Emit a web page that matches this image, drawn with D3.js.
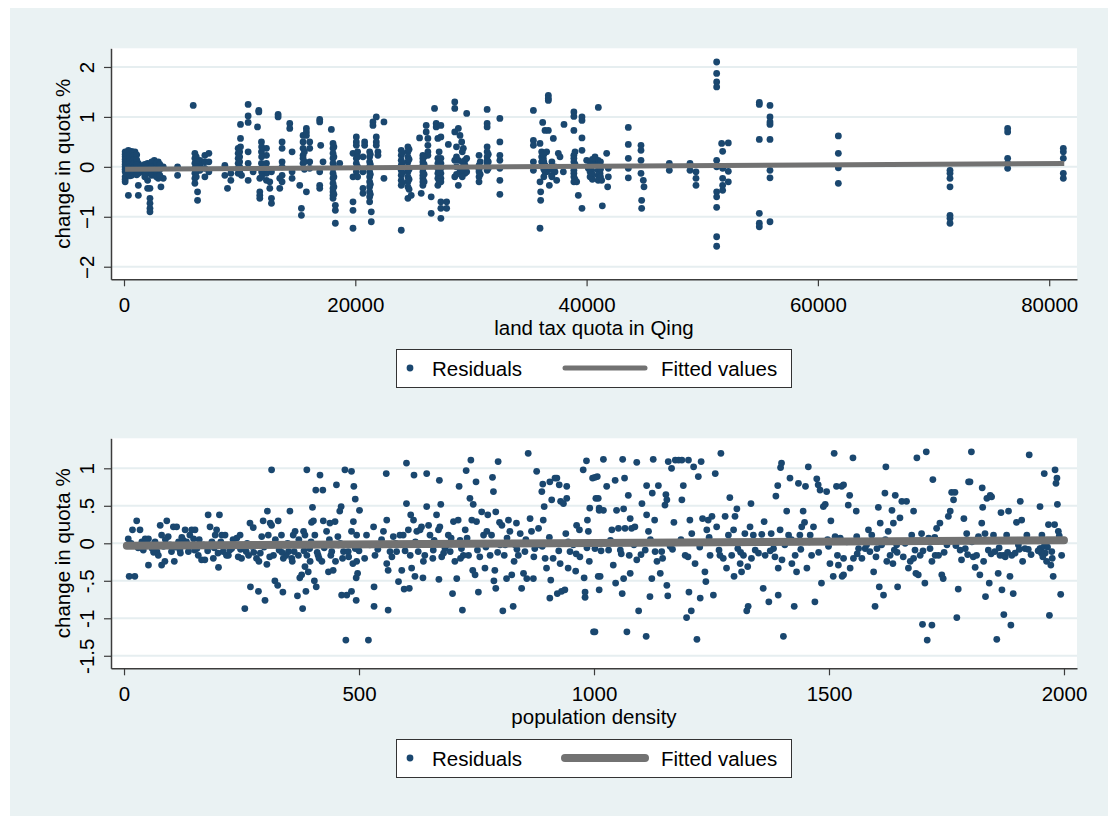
<!DOCTYPE html>
<html><head><meta charset="utf-8">
<script src="https://cdn.jsdelivr.net/npm/d3@7"></script>
<style>
body{margin:0;background:#fff}
svg{display:block}
text{font-family:"Liberation Sans",Arial,sans-serif;fill:#000}
</style>
</head><body>
<svg id="chart" width="1108" height="816"></svg>
<script>
// ---------------- DATA ----------------
// Panel 1: land tax quota (x) -> residual change in quota (y); points share x values in stripes
const quotaStripeX = [100,380,660,950,1240,1380,2043,2245,2619,2964,3195,3396,4634,5986,6130,6360,6562,6993,7339,8720,8950,9238,9872,10073,10160,10735,11166,11541,11656,11742,11886,12318,12606,12750,13325,13469,13670,14332,14534,15196,15340,15484,15771,16059,16923,17009,17210,17930,18074,18275,18650,19800,20090,20664,20808,21240,21383,21527,21815,21959,22477,23974,24549,24837,25557,25700,25844,26132,26276,26563,26851,26995,27139,27400,27900,28046,28600,28910,29054,29198,29342,29487,29631,30700,31400,32500,35400,35971,36029,36115,36202,36259,36403,36547,36692,36778,36980,37124,37268,37412,37556,37700,37988,38046,38900,39141,39285,39600,40006,40150,40300,40438,40726,40870,41000,41015,41159,41303,41360,41735,41821,41879,43608,44703,44761,44905,44963,47153,48940,49459,51246,51678,51764,52254,54935,55857,61768,71423,76408,81222,
  240,520,800,1100,1800,2400,2800,3100,6250,10000,11900,15600,18150,20200,21300,24050,24650,25950,27250,28750,29250,30800,31500,36300,37000,39000,40500,41200];
const quotaStripeResid = [
[0.3,0.25,0.2,0.15,0.1,0.05,0,-0.05,-0.1,-0.2,-0.25,-0.3],
[0.33,0.27,0.2,0.13,0.07,0,-0.07,-0.57],
[0.31,0.25,0.17,0.1,0.03,-0.1,-0.17],
[0.3,0.17,0.07,-0.03,-0.13],
[0.07,-0.03,-0.13,-0.37,-0.57],
[0.03,-0.1],
[0.07,-0.03,-0.13,-0.27,-0.43],
[-0.43,-0.63,-0.73,-0.83,-0.9],
[0.13,0.03,-0.1],
[0.1,0,-0.1,-0.23],
[-0.4],
[0,-0.23],
[0,-0.17],
[1.23],
[0.27,0.17,0.07,-0.03,-0.13,-0.23,-0.33],
[-0.5,-0.67],
[0.13,0.03,-0.07],
[0.23,0.1,-0.03,-0.2],
[0.27,0.1,-0.1],
[0.03,-0.17],
[-0.43],
[-0.13,-0.27],
[0.37,0.27,0.17,0.07,-0.03,-0.13],
[0.85,0.57,0.4],
[-0.17],
[1.25,1.02,0.89,0.3,0.07,-0.27],
[-0.1],
[0.8],
[1.13,1.1],
[-0.23,-0.5,-0.57,-0.63],
[0.5,0.3,0.07,-0.03],
[0.37,0.23,0.07,-0.13,-0.27],
[-0.3,-0.43],
[-0.1,-0.63,-0.73],
[1.05,1.0],
[-0.23,-0.43],
[0.5,0.37,0.1,0,-0.17,-0.3],
[0.87,0.77],
[0.3,-0.1,-0.23],
[-0.37],
[-0.83,-0.97],
[0.63,0.5,0.37,0.23,0.17,0.07],
[0.77,0.7,0.63,-0.5],
[0.5,0.37,0.1,-0.03],
[0.95,0.9,-0.1,-0.37,-0.43],
[0.43],
[0.1],
[0.75],
[0.47,0.37,0.27,0.17,0.07,-0.03,-0.13,-0.23,-0.33,-0.43,-0.5,-0.57,-0.63],
[-0.77,-0.87,-1.13],
[0.07],
[0.27,-0.2,-0.7,-0.87,-1.23],
[0.6,0.5,0.43,0.17,0.07,-0.1],
[0.2,-0.1,-0.43,-0.53],
[0.5,0.43],
[0.3,0.2,0.1,0,-0.1,-0.2,-0.3,-0.4,-0.5,-0.6,-0.7],
[-0.9,-1.1],
[0.9,0.83],
[1.0,0.6,0.5,0.43],
[0.3,0.23],
[0.9,-0.23],
[0.33,0.23,0.13,0.03,-0.07,-0.17,-0.27,-0.37,-1.27],
[0.4,0.3,0.2,0.1,0,-0.1,-0.2,-0.3,-0.4,-0.63],
[-0.57],
[0.58],
[-0.53],
[0.23,0.17,0.1,0.03,-0.03,-0.1,-0.17,-0.23,-0.3,-0.37],
[0.83,0.7],
[0.57,0.43,0.3,0.23],
[-0.6,-0.93],
[1.17],
[0.87,0.8],
[0.57,0.17,0.07,-0.03,-0.13,-0.23,-0.37],
[0.83,0.6,0.17,0.07,-0.03,-0.13,-0.23,-0.3,-0.7,-0.83,-1.03],
[-0.7,-0.83],
[0.45],
[1.3,1.17,0.7,0.13,-0.2],
[0.77,0.13,-0.37],
[0.63,-0.1],
[0.5],
[0.37],
[0.13,0.03,-0.07,-0.13],
[1.07,0.17,-0.1],
[0.23,0.03,-0.05,-0.1,-0.2,-0.3],
[1.15,0.87,0.8,0.4,0.3,0.2,0.13,0.07,0,-0.07],
[0.97,0.5,0.23,0.13,-0.03,-0.27,-0.55],
[1.13,0.53,0.43,0.1,-0.07],
[0.47,-0.3,-1.23],
[-0.5,-0.67],
[0.3,0.2,0.1],
[0.89],
[0.17,0.07],
[0.73,0.03,-0.1],
[0.3,-0.1],
[1.43,1.37,1.33,0.73],
[-0.37],
[-0.17],
[0.57],
[0,-0.1],
[-0.27],
[0.27],
[0.2],
[-0.1],
[0.85],
[1.1,1.01,0.73,0.23,0.17,0.1,0,-0.07,-0.13,-0.2,-0.3],
[-0.3],
[-0.57],
[1.0,0.93,0.58,0.33,-0.83],
[0.13],
[-0.03],
[0.1,0,-0.1,-0.2],
[-0.07],
[0.2],
[0.07],
[0.13,0.03,-0.07,-0.17,-0.27],
[1.19],
[-0.13],
[-0.27],
[-0.78],
[0.27],
[-0.4],
[-0.2,-0.03],
[0.79,0.45,0.17,-0.03,-0.22],
[0.43,0.33,0.13,-0.13],
[-0.67,-0.83],
[-0.27],
[-0.4],
[0.07,-0.07],
[0.07,-0.07],
[-0.1,-0.23,-0.37],
[2.1,1.87,1.7,1.6,0.13,0,-0.5,-0.6,-0.81,-1.4,-1.59],
[0.47],
[0.31,-0.03,-0.23,-0.37,-0.47],
[0.48,-0.09,-0.3],
[1.29,1.25,0.55,-0.93,-1.13,-1.2],
[1.23,1.0,0.9,0.85,0.55,-0.07,-0.22,-1.1],
[0.62,0.27,-0.02,-0.33],
[-0.07,-0.13,-0.23,-0.4,-0.97,-1.03,-1.13],
[0.77,0.7,0.17,0.07,-0.03],
[0.37,0.3,0.17,-0.13,-0.23],
[0.28,0.22,0.16,0.1,0.04,-0.02,-0.08,-0.14],
[0.3,0.24,0.18,0.12,0.06,0,-0.06,-0.12,-0.18],
[0.28,0.22,0.14,0.06,-0.02,-0.08,-0.14],
[0.24,0.14,0.04,-0.06,-0.16],
[0.05,-0.05,-0.15,-0.2],
[0.1,0,-0.1,-0.17],
[0.08,-0.05,-0.15,-0.2],
[0.05,-0.05,-0.17],
[0.2,0.1,0,-0.1,-0.2],
[0.3,0.2,0.1,0,-0.1],
[0.4,0.2,-0.1,-0.2],
[0.3,0.1,-0.05],
[0.4,0.2,0,-0.2,-0.4,-0.55],
[0.3,0.2,0,-0.2],
[0.25,0.05,-0.15,-0.35,-0.55],
[0.28,0.08,-0.12,-0.32],
[0.35,0.15,-0.05,-0.25,-0.45],
[0.2,0.05,-0.15,-0.3],
[0.3,0.1,-0.1,-0.3],
[0.4,0.2,0,-0.15],
[0.3,0.1,-0.05,-0.2],
[0.1,-0.15],
[0.25,0.1,-0.03],
[0.25,0.1,-0.05,-0.2],
[0.1,-0.05,-0.2],
[0.3,0.05,-0.25],
[0.15,0.05,-0.15,-0.25],
[0.1,-0.05,-0.2]
];
const quotaFitX = [100, 81300];
const quotaFitY = [-0.047, 0.067];
const quotaXTicks = [0, 20000, 40000, 60000, 80000];
const quotaYTicks = [-2, -1, 0, 1, 2];

// Panel 2: population density (x) -> residual change in quota (y)
const densityPoints = [
[9,0.06],[11,-0.44],[23,-0.44],[18,0.18],[27,0.3],[34,0.18],[38,0.02],[41,-0.09],[45,0.06],[52,0.06],[52,-0.29],[59,-0.02],[66,0.02],[70,-0.11],[73,-0.16],[77,0.24],[80,0.11],[80,-0.29],[87,-0.24],[91,0.3],[94,0.09],[98,-0.02],[101,-0.11],[105,0.22],[107,-0.24],[112,0.22],[116,0.02],[119,-0.09],[130,0.18],[133,0.02],[137,-0.11],[140,0.11],[144,0.18],[148,0.06],[151,0.18],[155,-0.07],[158,-0.16],[165,-0.22],[169,-0.02],[172,-0.22],[179,0.38],[183,0.22],[187,0.02],[190,-0.2],[194,0.11],[197,0.18],[201,-0.32],[203,0.38],[208,0.11],[211,-0.11],[215,0.11],[222,-0.16],[229,-0.07],[236,-0.02],[243,-0.18],[247,0.11],[250,-0.2],[254,-0.04],[257,-0.87],[265,-0.16],[268,0.27],[269,-0.58],[275,0.21],[279,-0.02],[282,-0.2],[286,-0.64],[287,-0.24],[293,0.09],[296,0.3],[300,-0.76],[304,-0.28],[305,0.43],[307,0.11],[311,0.27],[314,0.24],[314,0.98],[318,-0.16],[321,-0.5],[325,-0.02],[327,-0.56],[328,0.3],[335,0.11],[338,-0.65],[339,-0.2],[343,-0.02],[350,-0.11],[353,0.43],[357,-0.2],[360,0.11],[364,0.16],[367,-0.02],[369,-0.7],[371,-0.16],[374,-0.46],[378,-0.42],[380,-0.87],[382,0.16],[385,0.11],[385,-0.31],[387,-0.64],[389,-0.16],[389,0.98],[392,-0.38],[396,-0.24],[399,0.28],[401,0.48],[403,0.3],[405,-0.5],[406,0.11],[408,0.71],[409,-0.58],[413,-0.16],[417,0.91],[421,-0.24],[423,0.71],[424,0.3],[428,-0.02],[431,0.16],[435,-0.38],[438,0.27],[442,-0.11],[445,-0.36],[449,0.29],[452,0.78],[456,-0.02],[459,0.43],[462,0.49],[463,-0.69],[467,-0.11],[470,0.98],[472,-1.29],[474,-0.69],[477,-0.11],
[60,-0.07],[84,-0.04],[120,-0.13],[126,0.04],[150,-0.09],[175,-0.04],[200,-0.13],[225,-0.09],[240,0.07],[260,-0.11],[272,-0.04],[290,-0.13],[330,-0.09],[345,-0.16],[362,-0.11],[395,-0.07],[415,-0.2],[440,-0.16],[455,0.09],[465,-0.2],
[484,0.96],[489,0.76],[492,0.59],[501,0.44],[488,0.29],[484,0.16],[495,0.11],[492,-0.07],[487,-0.27],[495,-0.24],[497,-0.4],[494,-0.46],[484,-0.64],[494,-0.76],[520,-1.29],[516,0.11],[523,-0.02],[531,0.22],[534,-0.16],[532,-0.58],[532,-0.84],[552,0.16],[558,0.93],[559,0.31],[559,-0.27],[562,-0.36],[562,-0.89],[566,-0.11],[573,0.09],[580,-0.11],[584,-0.51],[587,0.11],[591,-0.36],[594,0.11],[596,-0.61],[601,1.07],[601,0.53],[605,0.18],[607,-0.6],[609,-0.16],[610,0.38],[612,-0.33],[616,0.31],[617,0.91],[619,-0.44],[623,0.16],[626,-0.11],[630,0.18],[633,0.22],[636,-0.46],[637,-0.24],[644,0.93],[644,0.49],[648,0.24],[651,0.11],[657,-0.2],[658,-0.09],[665,0.38],[669,0.18],[670,-0.48],[671,0.84],[672,0.22],[674,0.52],[676,-0.18],[683,-0.07],[687,-0.02],[690,0.11],[694,-0.11],[699,-0.67],[701,0.29],[704,-0.24],[708,-0.47],[711,0.31],[713,0.76],[715,0.04],[718,-0.07],[720,-0.89],[722,-0.16],[726,0.18],[728,0.97],[733,-0.16],[736,0.6],[738,1.11],[740,0.31],[742,-0.36],[743,0.52],[747,-0.42],[749,0.82],[750,0.29],[754,-0.65],[757,-0.18],[761,0.42],[765,0.11],[768,-0.33],[772,0.16],[774,0.38],[779,-0.16],[782,0.11],[784,0.88],[786,0.69],[787,-0.5],[789,-0.36],[791,-0.6],[791,0.42],[796,1.09],[799,0.28],[800,-0.02],[804,0.24],[806,-0.9],[809,-0.16],[811,-0.02],[814,-0.47],[818,0.31],[821,0.16],[825,-0.42],[828,-0.84],[830,-0.24],[832,-0.02],[835,0.27],[839,-0.16],[843,0.13],[846,-0.6],[850,-0.4],[853,-0.11],[857,-0.47],[860,1.2],[864,0.33],[867,0.16],[871,-0.47],[874,-0.07],[878,0.96],[882,0.2],[885,-0.02],[889,0.69],[891,0.79],[892,0.31],[894,0.49],[896,-0.2],[899,-0.33],[906,0.82],[906,-0.73],[908,-0.49],[910,0.58],[913,-0.2],[917,0.87],[921,0.87],[922,-0.67],[926,0.78],[928,-0.27],[929,0.56],[931,-0.64],[935,0.53],[938,-0.62],[940,0.13],[942,0.76],[942,0.6],[945,-0.33],[949,-0.11],[956,-0.02],[961,-0.37],[963,0.24],[969,0.18],[970,-0.18],[977,0.98],[979,-0.46],[981,-0.72],[981,-0.65],[984,1.1],[986,0.31],[988,0.16],[990,-0.24],[991,0.47],[997,0.87],[999,-1.18],[1002,-0.07],[1004,0.6],[1007,0.89],[1009,-0.44],[1011,-0.62],[1011,0.47],
[1002,0.88],[1009,0.6],[1011,0.44],[1020,1.12],[1020,0.44],[1013,-0.44],[1002,-1.18],[1027,0.76],[1031,-0.09],[1038,0.18],[1041,-0.29],[1045,0.84],[1046,-0.53],[1048,0.44],[1052,0.2],[1056,-0.09],[1060,-0.67],[1061,1.12],[1063,-0.47],[1065,0.87],[1063,0.46],[1066,0.2],[1070,-1.18],[1073,0.64],[1075,-0.16],[1077,0.33],[1077,-0.4],[1080,0.2],[1087,0.22],[1091,1.08],[1091,-0.22],[1095,-0.9],[1102,0.53],[1109,-0.09],[1111,-1.24],[1112,0.77],[1112,0.38],[1116,0.16],[1119,-0.71],[1123,-0.47],[1124,0.67],[1126,1.12],[1129,0.31],[1130,-0.11],[1134,-0.24],[1137,0.77],[1141,-0.4],[1144,-0.11],[1151,0.51],[1153,0.65],[1155,0.58],[1155,-0.56],[1157,-0.7],[1158,1.09],[1162,-0.04],[1165,1.0],[1170,0.28],[1173,1.11],[1180,1.11],[1187,1.11],[1190,0.77],[1187,0.58],[1194,-0.16],[1197,-0.99],[1201,1.11],[1202,-0.65],[1204,0.31],[1207,-0.9],[1208,0.13],[1212,1.02],[1215,-0.27],[1219,-1.28],[1222,0.89],[1226,-0.73],[1228,1.09],[1231,0.33],[1236,-0.38],[1238,-0.51],[1240,0.18],[1243,0.31],[1247,-0.16],[1251,0.36],[1254,-0.69],[1258,0.93],[1261,0.22],[1266,-0.09],[1270,1.2],[1275,-0.2],[1279,0.36],[1282,-0.33],[1286,0.11],[1289,0.61],[1293,-0.16],[1297,0.18],[1298,-0.44],[1300,0.36],[1304,0.46],[1306,-0.07],[1311,-0.27],[1314,-0.38],[1318,-0.16],[1321,0.13],[1325,-0.9],[1327,-0.31],[1328,-0.84],[1332,0.22],[1334,0.53],[1339,0.11],[1343,-0.09],[1350,-0.13],[1357,0.12],[1360,-0.6],[1362,0.29],[1364,-0.16],[1372,-0.78],[1377,0.13],[1382,-0.07],[1385,-0.18],[1387,0.63],[1391,0.77],[1392,-0.33],[1392,-0.69],[1396,0.18],[1397,1.01],[1399,1.07],[1403,-1.24],[1406,-0.02],[1410,0.43],[1414,0.11],[1417,0.87],[1421,-0.27],[1426,-0.84],[1428,-0.16],[1431,-0.38],[1435,0.8],[1438,0.11],[1442,0.22],[1445,0.43],[1448,0.28],[1450,0.76],[1453,-0.33],[1456,1.02],[1460,0.11],[1463,-0.16],[1467,0.22],[1470,-0.78],[1474,0.86],[1477,0.78],[1481,0.71],[1484,-0.53],[1488,0.49],[1492,0.52],[1495,0.69],[1499,-0.04],[1502,-0.27],[1504,0.3],[1509,-0.44],[1511,1.2],[1513,0.09],[1516,0.76],[1520,-0.29],[1527,0.76],[1528,-0.44],
[1524,0.07],[1531,0.78],[1531,-0.2],[1531,-0.42],[1544,0.64],[1545,-0.33],[1541,0.51],[1551,1.14],[1552,-0.2],[1558,0.43],[1559,0.09],[1563,-0.07],[1570,-0.2],[1577,-0.07],[1584,0.18],[1587,-0.11],[1591,0.11],[1595,-0.38],[1598,-0.84],[1602,-0.07],[1605,0.48],[1607,-0.58],[1609,0.27],[1612,-0.02],[1616,-0.69],[1619,0.67],[1621,1.02],[1623,-0.24],[1626,0.16],[1630,-0.16],[1634,0.44],[1636,-0.27],[1637,0.27],[1639,-0.09],[1641,0.64],[1644,-0.02],[1646,-0.58],[1651,0.34],[1655,0.56],[1658,-0.18],[1665,0.56],[1669,-0.33],[1673,-0.24],[1676,0.11],[1680,0.43],[1683,-0.09],[1685,-0.4],[1687,1.14],[1690,-0.42],[1694,-0.16],[1697,0.13],[1699,-1.08],[1704,-0.53],[1707,1.22],[1709,-1.29],[1712,0.07],[1715,-0.07],[1719,-1.09],[1719,-0.24],[1721,0.85],[1726,-0.16],[1729,0.2],[1733,-0.16],[1736,0.27],[1740,-0.42],[1743,-0.47],[1751,-0.02],[1754,0.36],[1758,0.43],[1761,0.68],[1765,0.58],[1768,0.68],[1772,-0.99],[1775,-0.61],[1779,-0.09],[1782,-0.22],[1787,0.33],[1790,-0.07],[1793,0.13],[1797,0.82],[1800,0.82],[1803,1.22],[1804,0.02],[1807,-0.18],[1811,-0.32],[1814,-0.16],[1818,0.09],[1821,-0.42],[1825,0.27],[1826,0.74],[1827,0.48],[1829,-0.24],[1832,0.13],[1833,-0.71],[1836,0.6],[1839,-0.09],[1841,-0.53],[1843,0.64],[1846,0.62],[1850,0.11],[1853,-0.11],[1857,-1.28],[1860,-0.4],[1864,-0.16],[1866,0.41],[1868,-0.62],[1871,-0.16],[1872,-0.95],[1875,-0.18],[1878,0.11],[1882,0.43],[1885,-0.44],[1887,-1.09],[1889,-0.16],[1892,-0.67],[1896,-0.13],[1899,0.28],[1903,-0.02],[1907,0.56],[1910,0.31],[1912,-0.24],[1917,-0.07],[1921,0.11],[1924,-0.08],[1926,1.18],[1949,0.49],[1951,-0.07],[1953,0.11],[1958,0.93],[1960,-0.13],[1963,-0.24],[1967,0.25],[1969,-0.96],[1972,-0.29],[1974,-0.11],[1977,-0.44],[1980,0.25],[1981,0.98],[1983,0.8],[1985,0.87],[1986,0.52],[1988,0.16],[1993,-0.68],[1995,-0.16],[1949,-0.07],[1952,-0.13],[1955,-0.18],[1958,-0.04],
[15,0.0],[30,-0.06],[48,0.03],[63,-0.12],[88,0.05],[110,-0.05],[123,0.08],[142,-0.03],[160,0.05],[178,-0.1],[192,-0.06],[206,0.02],[218,-0.16],[232,0.05],[248,-0.08],[262,0.0],[276,-0.12],[298,-0.05],[310,-0.18],[322,0.05],[336,-0.12],[348,0.0],[358,-0.24],[372,0.05],[383,-0.1],[398,0.02],[411,-0.12],[426,-0.06],[437,0.05],[450,-0.24],[460,0.0],[478,-0.18],[500,-0.1],[512,-0.2],[540,-0.08],[548,0.05],[570,-0.18],[578,0.0],[598,-0.1],[620,0.02],[640,-0.16],[660,0.04],[680,-0.13],[696,0.07],[716,-0.2],[730,0.07],[752,-0.09],[770,-0.05],[795,-0.12],[815,0.07],[836,-0.08],[855,0.05],[872,-0.18],[890,-0.04],[905,0.08],[925,-0.1],[945,0.02],[962,-0.14],[985,-0.06],[1015,-0.1],[1035,0.04],[1058,-0.14],[1085,-0.02],[1100,-0.15],[1120,0.05],[1146,-0.2],[1167,-0.08],[1185,0.05],[1200,-0.18],[1225,-0.05],[1245,0.08],[1268,-0.16],[1290,0.02],[1312,-0.12],[1335,-0.2],[1355,0.02],[1375,-0.1],[1400,-0.22],[1420,0.05],[1440,-0.08],[1458,0.02],[1478,-0.12],[1497,0.05],[1518,-0.16],[1538,0.02],[1560,-0.14],[1580,-0.02],[1600,-0.18],[1620,0.05],[1645,-0.12],[1662,0.0],[1680,-0.2],[1700,-0.1],[1725,0.08],[1745,-0.12],[1770,-0.03],[1795,-0.15],[1815,0.05],[1845,-0.14],[1862,-0.06],[1880,-0.12],[1905,-0.08],[1930,-0.15],[1945,-0.1],[1965,-0.05],[1975,-0.2],[1990,0.1]
];
const densityFitX = [6, 2000];
const densityFitY = [-0.033, 0.04];
const densityXTicks = [0, 500, 1000, 1500, 2000];
const densityYTicks = [-1.5, -1, -0.5, 0, 0.5, 1];

const legendLabels = ["Residuals", "Fitted values"];
const xTitles = ["land tax quota in Qing", "population density"];
const yTitle = "change in quota %";

// ---------------- STYLE ----------------
const BG = "#eaf2f3", GRID = "#e6eef0", AXIS = "#3c3c3c", DOT = "#1a476f", FIT = "#727272";
const FONT = 20.5;
const plotLeft = 111, plotRight = 1077;

const svg = d3.select("#chart");
svg.append("rect").attr("x", 10).attr("y", 8).attr("width", 1098).attr("height", 808).attr("fill", BG);

function panel(cfg) {
  const x = d3.scaleLinear().domain(cfg.xDomain).range([plotLeft, plotRight]);
  const y = d3.scaleLinear().domain(cfg.yDomain).range([cfg.bottom, cfg.top]);
  const g = svg.append("g");

  g.append("rect").attr("x", plotLeft).attr("y", cfg.top)
    .attr("width", plotRight - plotLeft).attr("height", cfg.bottom - cfg.top).attr("fill", "#fff");

  // gridlines
  g.append("g").selectAll("line").data(cfg.yTicks).join("line")
    .attr("x1", plotLeft).attr("x2", plotRight)
    .attr("y1", d => y(d)).attr("y2", d => y(d))
    .attr("stroke", GRID).attr("stroke-width", 2);

  // points
  g.append("g").selectAll("circle").data(cfg.points).join("circle")
    .attr("cx", d => x(d[0])).attr("cy", d => y(d[1])).attr("r", 3.4)
    .attr("fill", DOT);

  // fitted line
  const line = d3.line().x(d => x(d[0])).y(d => y(d[1]));
  g.append("path").datum(cfg.fit).attr("d", line)
    .attr("fill", "none").attr("stroke", FIT).attr("stroke-width", cfg.fitWidth)
    .attr("stroke-linecap", cfg.cap);

  // x axis
  const xa = g.append("g").attr("transform", `translate(0,${cfg.bottom})`)
    .call(d3.axisBottom(x).tickValues(cfg.xTicks).tickFormat(d3.format("d")).tickSize(7).tickSizeOuter(0).tickPadding(5));
  xa.select(".domain").attr("stroke", AXIS).attr("stroke-width", 1.5);
  xa.selectAll(".tick line").attr("stroke", AXIS).attr("stroke-width", 1.2);
  xa.selectAll(".tick text").attr("font-size", FONT).attr("font-family", "Liberation Sans, Arial, sans-serif")
    .attr("fill", "#000").attr("dy", null).attr("y", 33);

  // y axis
  const ya = g.append("g").attr("transform", `translate(${plotLeft},0)`)
    .call(d3.axisLeft(y).tickValues(cfg.yTicks).tickFormat(cfg.yFormat).tickSize(7).tickSizeOuter(0));
  ya.select(".domain").attr("stroke", AXIS).attr("stroke-width", 1.5);
  ya.selectAll(".tick line").attr("stroke", AXIS).attr("stroke-width", 1.2);
  ya.selectAll(".tick text").attr("font-size", FONT).attr("font-family", "Liberation Sans, Arial, sans-serif")
    .attr("fill", "#000").attr("x", null).attr("dy", null)
    .attr("text-anchor", "middle").attr("transform", "translate(-17,0) rotate(-90)");

  // titles
  g.append("text").attr("x", (plotLeft + plotRight) / 2).attr("y", cfg.bottom + 56)
    .attr("text-anchor", "middle").attr("font-size", FONT).text(cfg.xTitle);
  g.append("text").attr("transform", `translate(70,${(cfg.top + cfg.bottom) / 2}) rotate(-90)`)
    .attr("text-anchor", "middle").attr("font-size", FONT).text(yTitle);

  // legend
  const ly = cfg.legendTop;
  g.append("rect").attr("x", 396.5).attr("y", ly + 0.5).attr("width", 395).attr("height", 38)
    .attr("fill", "#fff").attr("stroke", "#333").attr("stroke-width", 1);
  g.append("circle").attr("cx", 410).attr("cy", ly + 19).attr("r", 3.4).attr("fill", DOT);
  g.append("text").attr("x", 432).attr("y", ly + 27).attr("font-size", FONT).text(legendLabels[0]);
  g.append("line").attr("x1", 565).attr("x2", 645).attr("y1", ly + 19).attr("y2", ly + 19)
    .attr("stroke", FIT).attr("stroke-width", cfg.fitWidth).attr("stroke-linecap", "round");
  g.append("text").attr("x", 661).attr("y", ly + 27).attr("font-size", FONT).text(legendLabels[1]);
}

const quotaPoints = [];
quotaStripeX.forEach((xv, i) => quotaStripeResid[i].forEach(yv => quotaPoints.push([xv, yv])));

panel({
  top: 48.3, bottom: 279.3,
  xDomain: [-1124, 82404], yDomain: [-2.252, 2.374],
  xTicks: quotaXTicks, yTicks: quotaYTicks, yFormat: d3.format("d"),
  points: quotaPoints, fit: quotaFitX.map((v, i) => [v, quotaFitY[i]]),
  fitWidth: 5, cap: "butt", xTitle: xTitles[0], legendTop: 349
});

panel({
  top: 438.3, bottom: 668.3,
  xDomain: [-27.7, 2027.7], yDomain: [-1.667, 1.40],
  xTicks: densityXTicks, yTicks: densityYTicks,
  yFormat: v => String(v).replace("0.", "."),
  points: densityPoints, fit: densityFitX.map((v, i) => [v, densityFitY[i]]),
  fitWidth: 8, cap: "round", xTitle: xTitles[1], legendTop: 739
});
</script>
</body></html>
